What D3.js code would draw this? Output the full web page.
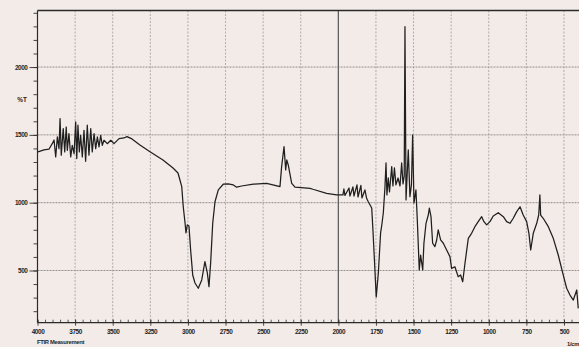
<!DOCTYPE html>
<html><head><meta charset="utf-8">
<script src="https://cdn.jsdelivr.net/npm/d3@7"></script>
<style>
html,body{margin:0;padding:0;background:#f3ebe8;}
svg{display:block;}
text{font-family:"Liberation Sans",Arial,sans-serif;font-weight:bold;fill:#1e1e1e;}
</style></head>
<body>
<svg id="c" width="579" height="347"></svg>
<script>
// Data (wavenumber in 1/cm, %T scale as printed)
const wavenumbers = [3997,3957,3924,3902,3890,3879,3868,3857,3850,3842,3829,3819,3809,3802,3791,3779,3769,3757,3746,3739,3731,3722,3713,3702,3691,3680,3669,3658,3646,3636,3624,3613,3602,3591,3580,3569,3558,3536,3513,3491,3458,3425,3405,3372,3319,3252,3166,3099,3066,3053,3041,3031,3019,3013,3004,2993,2982,2968,2953,2931,2908,2887,2871,2860,2849,2835,2820,2798,2765,2732,2698,2676,2643,2565,2476,2388,2377,2361,2350,2343,2333,2310,2288,2188,2169,2078,2011,1969,1963,1956,1929,1923,1903,1896,1876,1869,1850,1843,1823,1812,1801,1778,1770,1760,1748,1734,1719,1712,1701,1690,1683,1677,1668,1660,1645,1637,1627,1617,1603,1590,1579,1570,1562,1557,1550,1535,1524,1514,1506,1497,1484,1475,1462,1453,1439,1431,1417,1402,1395,1384,1373,1358,1346,1336,1320,1302,1280,1258,1247,1225,1203,1187,1173,1158,1136,1114,1092,1070,1047,1032,1014,992,970,937,903,881,859,837,814,792,771,748,733,721,704,681,668,660,655,638,604,571,538,505,482,460,438,415,405];
const transmittance = [1374,1389,1394,1435,1462,1337,1485,1398,1620,1350,1546,1374,1558,1386,1509,1337,1423,1361,1595,1325,1571,1374,1497,1337,1534,1305,1571,1350,1546,1374,1509,1398,1485,1411,1497,1423,1460,1435,1460,1435,1472,1477,1487,1470,1426,1376,1315,1256,1219,1167,1118,970,850,777,836,828,651,467,408,369,430,565,482,381,555,850,1007,1094,1136,1138,1131,1114,1123,1136,1143,1118,1266,1413,1241,1315,1278,1143,1114,1106,1099,1069,1057,1057,1101,1053,1108,1049,1116,1049,1131,1042,1127,1035,1094,1032,1007,961,799,577,305,482,777,828,924,1116,1293,1057,1182,1079,1266,1123,1256,1131,1182,1123,1293,1138,1197,2298,1020,1389,1044,1131,1499,998,1094,872,504,614,504,701,848,909,959,897,701,676,725,799,725,701,651,602,516,528,454,467,417,553,737,774,823,860,897,860,836,860,902,926,897,860,848,885,934,970,909,860,774,651,774,848,909,1057,909,885,823,737,614,467,369,319,282,356,221];
const xTickLabels = [4000,3750,3500,3250,3000,2750,2500,2250,2000,1750,1500,1250,1000,750,500];
const yTickLabels = [500,1000,1500,2000];

const svg = d3.select("#c");
const L = 37.5, R = 579, T = 10.5, B = 322.7;
const x = d3.scaleLinear().domain([4000, 400]).range([L, R]);
const y = d3.scaleLinear().domain([115, 2417]).range([B, T]);

// grid
const g = svg.append("g");
g.selectAll("line.hg").data(yTickLabels).enter().append("line")
  .attr("x1", L).attr("x2", R).attr("y1", d => y(d)).attr("y2", d => y(d))
  .attr("stroke", "#8a8482").attr("stroke-width", 0.9).attr("stroke-dasharray", "2,1");
g.selectAll("line.vg").data(xTickLabels.filter(d => d !== 4000)).enter().append("line")
  .attr("x1", d => x(d)).attr("x2", d => x(d)).attr("y1", T).attr("y2", B)
  .attr("stroke", d => d === 2000 ? "#555" : "#a39c9a")
  .attr("stroke-width", d => d === 2000 ? 1.2 : 0.8)
  .attr("stroke-dasharray", d => d === 2000 ? null : "2,1.5");

// y axis: minor ticks every 100
const yMinor = d3.range(200, 2401, 100);
const yAx = svg.append("g").attr("transform", `translate(${L},0)`)
  .call(d3.axisLeft(y).tickValues(yMinor).tickSize(4).tickSizeOuter(0).tickFormat(""));
yAx.select(".domain").remove();
yAx.selectAll(".tick line").attr("stroke", "#333").attr("stroke-width", 0.9);
const yLab = svg.append("g").attr("transform", `translate(${L},0)`)
  .call(d3.axisLeft(y).tickValues(yTickLabels).tickSize(8).tickPadding(2).tickFormat(d3.format("d")));
yLab.select(".domain").remove();
yLab.selectAll(".tick line").attr("stroke", "#333").attr("stroke-width", 0.9);
yLab.selectAll("text").attr("font-size", 6.4).attr("letter-spacing", -0.4).attr("fill", "#1e1e1e");

// x axis: minor ticks every 50
const xMinor = d3.range(450, 4001, 50);
const xAx = svg.append("g").attr("transform", `translate(0,${B})`)
  .call(d3.axisTop(x).tickValues(xMinor).tickSize(3).tickSizeOuter(0).tickFormat(""));
xAx.select(".domain").remove();
xAx.selectAll(".tick line").attr("stroke", "#333").attr("stroke-width", 0.8);
const xLab = svg.append("g").attr("transform", `translate(0,${B - 3})`)
  .call(d3.axisBottom(x).tickValues(xTickLabels).tickSize(6).tickPadding(4).tickFormat(d3.format("d")));
xLab.select(".domain").remove();
xLab.selectAll(".tick line").attr("stroke", "#333").attr("stroke-width", 0.9);
xLab.selectAll("text").attr("font-size", 6.4).attr("letter-spacing", -0.4).attr("fill", "#1e1e1e");

// frame lines
svg.append("line").attr("x1", L).attr("x2", R).attr("y1", T).attr("y2", T).attr("stroke", "#2a2a2a").attr("stroke-width", 1.6);
svg.append("line").attr("x1", L).attr("x2", L).attr("y1", T).attr("y2", B).attr("stroke", "#2a2a2a").attr("stroke-width", 1.2);
svg.append("line").attr("x1", L).attr("x2", R).attr("y1", B).attr("y2", B).attr("stroke", "#2a2a2a").attr("stroke-width", 1.2);

// spectrum
const pts = wavenumbers.map((w, i) => [w, transmittance[i]]);
svg.append("path").datum(pts)
  .attr("fill", "none").attr("stroke", "#1f1f1f").attr("stroke-width", 1.25)
  .attr("stroke-linejoin", "round")
  .attr("d", d3.line().x(d => x(d[0])).y(d => y(d[1])));

// labels
svg.append("text").attr("x", 22).attr("y", 102).attr("text-anchor", "middle").attr("font-size", 6.4).text("%T");
svg.append("text").attr("x", 37).attr("y", 344).attr("font-size", 5.8).attr("letter-spacing", -0.3).text("FTIR Measurement");
svg.append("text").attr("x", 567).attr("y", 346).attr("font-size", 5.8).attr("letter-spacing", -0.3).text("1/cm");
</script>
</body></html>
